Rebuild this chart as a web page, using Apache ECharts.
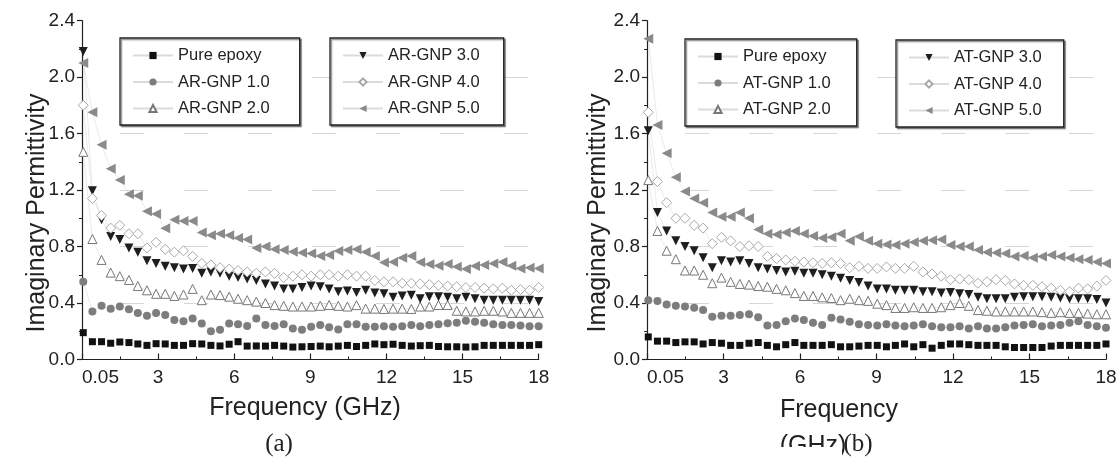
<!DOCTYPE html>
<html><head><meta charset="utf-8">
<script src="https://cdn.jsdelivr.net/npm/echarts@6/dist/echarts.min.js"></script>
<style>html,body{margin:0;padding:0;background:#fff}#c{width:1120px;height:460px}</style>
</head><body><div id="c"></div>
<script>
// Frequency (GHz) sample points
const freq = [0.05,0.41,0.77,1.13,1.49,1.85,2.20,2.56,2.92,3.28,3.64,4.00,4.36,4.72,5.08,5.44,5.80,6.15,6.51,6.87,7.23,7.59,7.95,8.31,8.67,9.03,9.39,9.74,10.10,10.46,10.82,11.18,11.54,11.90,12.26,12.62,12.98,13.33,13.69,14.05,14.41,14.77,15.13,15.49,15.85,16.21,16.57,16.92,17.28,17.64,18.00];

// Panel (a)
const pureA = [0.19,0.126,0.126,0.115,0.124,0.12,0.11,0.10,0.112,0.11,0.10,0.10,0.112,0.11,0.10,0.096,0.108,0.126,0.095,0.096,0.095,0.10,0.095,0.088,0.09,0.092,0.095,0.09,0.095,0.10,0.092,0.10,0.11,0.105,0.108,0.10,0.095,0.098,0.10,0.092,0.09,0.09,0.088,0.09,0.10,0.10,0.10,0.10,0.10,0.10,0.105];
const ar1 = [0.55,0.34,0.38,0.36,0.375,0.355,0.33,0.31,0.33,0.315,0.28,0.27,0.29,0.255,0.20,0.21,0.255,0.25,0.237,0.29,0.245,0.237,0.25,0.22,0.21,0.232,0.244,0.228,0.213,0.249,0.25,0.232,0.232,0.236,0.232,0.236,0.244,0.236,0.244,0.249,0.256,0.26,0.275,0.268,0.26,0.25,0.244,0.244,0.24,0.235,0.235];
const ar2 = [1.47,0.853,0.705,0.615,0.59,0.563,0.52,0.49,0.465,0.465,0.45,0.46,0.50,0.42,0.46,0.456,0.445,0.43,0.42,0.41,0.40,0.385,0.38,0.375,0.375,0.375,0.38,0.386,0.38,0.375,0.385,0.36,0.36,0.358,0.36,0.36,0.358,0.375,0.375,0.386,0.386,0.345,0.34,0.34,0.345,0.345,0.34,0.33,0.33,0.33,0.33];
const ar3 = [2.18,1.195,0.99,0.87,0.85,0.79,0.76,0.70,0.68,0.66,0.65,0.64,0.645,0.61,0.62,0.61,0.59,0.58,0.57,0.56,0.535,0.52,0.50,0.50,0.51,0.52,0.515,0.50,0.48,0.485,0.475,0.49,0.47,0.465,0.44,0.45,0.455,0.43,0.445,0.445,0.44,0.43,0.44,0.43,0.42,0.42,0.42,0.42,0.42,0.42,0.41];
const ar4 = [1.80,1.14,1.02,0.93,0.95,0.89,0.89,0.79,0.83,0.78,0.76,0.77,0.73,0.68,0.67,0.65,0.64,0.63,0.62,0.61,0.62,0.61,0.58,0.59,0.60,0.59,0.60,0.60,0.59,0.60,0.59,0.59,0.56,0.55,0.55,0.54,0.54,0.535,0.53,0.525,0.52,0.515,0.51,0.51,0.505,0.50,0.505,0.49,0.495,0.49,0.51];
const ar5 = [2.10,1.75,1.52,1.35,1.27,1.17,1.16,1.05,1.03,0.93,0.99,0.98,0.98,0.90,0.88,0.89,0.88,0.86,0.85,0.79,0.80,0.78,0.775,0.763,0.756,0.75,0.733,0.74,0.768,0.775,0.78,0.761,0.733,0.686,0.69,0.72,0.733,0.688,0.674,0.664,0.676,0.657,0.64,0.662,0.669,0.68,0.69,0.664,0.645,0.65,0.645];

// Panel (b)
const pureB = [0.16,0.13,0.13,0.12,0.125,0.125,0.11,0.12,0.115,0.10,0.10,0.115,0.12,0.10,0.09,0.105,0.12,0.10,0.10,0.10,0.105,0.09,0.09,0.095,0.10,0.10,0.09,0.10,0.11,0.09,0.105,0.08,0.10,0.11,0.11,0.105,0.10,0.10,0.10,0.09,0.085,0.085,0.085,0.085,0.095,0.10,0.10,0.10,0.10,0.10,0.11];
const at1 = [0.42,0.414,0.39,0.38,0.375,0.367,0.35,0.303,0.31,0.31,0.315,0.32,0.30,0.24,0.244,0.27,0.29,0.28,0.26,0.244,0.296,0.284,0.268,0.25,0.245,0.24,0.25,0.24,0.235,0.24,0.25,0.235,0.228,0.228,0.235,0.22,0.235,0.22,0.22,0.228,0.24,0.245,0.25,0.235,0.24,0.245,0.26,0.27,0.245,0.235,0.225];
const at2 = [1.27,0.91,0.77,0.71,0.63,0.63,0.60,0.54,0.58,0.55,0.535,0.53,0.52,0.515,0.50,0.49,0.47,0.45,0.45,0.44,0.435,0.42,0.43,0.42,0.415,0.395,0.385,0.365,0.365,0.37,0.365,0.365,0.37,0.385,0.40,0.38,0.35,0.345,0.34,0.34,0.34,0.34,0.34,0.335,0.33,0.335,0.33,0.33,0.325,0.32,0.32];
const at3 = [1.62,1.04,0.91,0.84,0.80,0.77,0.72,0.65,0.70,0.69,0.70,0.68,0.65,0.64,0.63,0.62,0.625,0.61,0.61,0.60,0.59,0.575,0.56,0.545,0.52,0.50,0.50,0.49,0.49,0.49,0.48,0.48,0.47,0.475,0.465,0.46,0.44,0.43,0.43,0.43,0.44,0.445,0.445,0.445,0.44,0.435,0.43,0.43,0.43,0.425,0.40];
const at4 = [1.75,1.26,1.11,1.00,1.00,0.95,0.93,0.82,0.865,0.84,0.80,0.805,0.80,0.73,0.715,0.705,0.695,0.69,0.685,0.68,0.685,0.68,0.65,0.66,0.645,0.645,0.655,0.645,0.645,0.66,0.62,0.605,0.59,0.565,0.57,0.565,0.54,0.55,0.565,0.56,0.535,0.525,0.525,0.515,0.505,0.49,0.48,0.505,0.50,0.52,0.56];
const at5 = [2.27,1.66,1.46,1.29,1.19,1.14,1.11,1.04,1.01,1.01,1.04,1.00,0.92,0.89,0.885,0.90,0.91,0.89,0.875,0.86,0.865,0.89,0.84,0.87,0.84,0.82,0.815,0.81,0.82,0.83,0.84,0.845,0.85,0.81,0.80,0.80,0.775,0.76,0.755,0.75,0.73,0.735,0.72,0.73,0.74,0.73,0.72,0.71,0.705,0.69,0.68];

const xTickLabels = ['0.05','3','6','9','12','15','18'];
const namesA = ['Pure epoxy','AR-GNP 1.0','AR-GNP 2.0','AR-GNP 3.0','AR-GNP 4.0','AR-GNP 5.0'];
const namesB = ['Pure epoxy','AT-GNP 1.0','AT-GNP 2.0','AT-GNP 3.0','AT-GNP 4.0','AT-GNP 5.0'];

const styles = [
  {symbol:'rect', size:7, rot:0, item:{color:'#111'}},
  {symbol:'circle', size:8, rot:0, item:{color:'#7d7d7d'}},
  {symbol:'triangle', size:9, rot:0, item:{color:'#fff', borderColor:'#777', borderWidth:1}},
  {symbol:'triangle', size:9, rot:180, item:{color:'#1e1e1e'}},
  {symbol:'diamond', size:10, rot:0, item:{color:'#fff', borderColor:'#a8a8a8', borderWidth:1}},
  {symbol:'triangle', size:10, rot:90, item:{color:'#8a8a8a'}}
];

function mk(name, vals, idx, st) {
  return {
    type:'line', name:name, xAxisIndex:idx, yAxisIndex:idx,
    data: freq.map((f,k)=>[f, vals[k]]),
    symbol: st.symbol, symbolSize: st.size, symbolRotate: st.rot, showSymbol:true,
    itemStyle: st.item,
    lineStyle: {color:'#bdbdbd', width:0.6, opacity:0.55},
    emphasis:{disabled:true}, animation:false, z: 3
  };
}
const dataA = [pureA, ar1, ar2, ar3, ar4, ar5];
const dataB = [pureB, at1, at2, at3, at4, at5];
const series = [];
dataA.forEach((d,k)=>series.push(mk(namesA[k], d, 0, styles[k])));
dataB.forEach((d,k)=>series.push(mk(namesB[k], d, 1, styles[k])));

const FONT = 'Liberation Sans';
function xAxis(gi) {
  return {
    type:'value', gridIndex:gi, min:0, max:18, interval:3,
    axisLine:{show:true, onZero:false, lineStyle:{color:'#222', width:1.2}},
    axisTick:{show:true, inside:true, length:6, lineStyle:{color:'#222', width:1.2}},
    minorTick:{show:true, splitNumber:2, length:3, lineStyle:{color:'#222', width:1}},
    splitLine:{show:false},
    axisLabel:{color:'#222', fontFamily:FONT, fontSize:19, margin:9,
      alignMinLabel:'left', showMinLabel:true, showMaxLabel:true,
      formatter:(v)=>xTickLabels[Math.round(v/3)]}
  };
}
function yAxis(gi, off) {
  return {
    type:'value', gridIndex:gi, min:0, max:2.4, interval:0.4,
    axisLine:{show:true, onZero:false, lineStyle:{color:'#222', width:1.2}},
    axisTick:{show:true, inside:false, length:5, lineStyle:{color:'#222', width:1.2}},
    minorTick:{show:true, splitNumber:2, length:3, lineStyle:{color:'#222', width:1}},
    splitLine:{show:true, showMinLine:false, showMaxLine:false,
      lineStyle:{color:'#d6d6d6', width:1.2, type:[24,40], dashOffset:off}},
    axisLabel:{color:'#222', fontFamily:FONT, fontSize:19, margin:7, formatter:(v)=>v.toFixed(1)}
  };
}
function legend(names, left, top, pr) {
  return {
    data:names, orient:'vertical', left:left, top:top,
    padding:[9, pr, 8, 12], itemGap:9.5, itemWidth:40, itemHeight:9,
    backgroundColor:'#fff', borderColor:'#222', borderWidth:1.3,
    shadowColor:'rgba(0,0,0,0.45)', shadowOffsetX:1.5, shadowOffsetY:1.5, shadowBlur:1,
    textStyle:{color:'#222', fontFamily:FONT, fontSize:16.5},
    selectedMode:false, z:5
  };
}

const option = {
  animation:false,
  backgroundColor:'#fff',
  grid:[
    {left:82, top:20.5, width:456.7, height:339},
    {left:647, top:20.5, width:459, height:339}
  ],
  xAxis:[xAxis(0), xAxis(1)],
  yAxis:[yAxis(0, 26), yAxis(1, 26)],
  legend:[
    legend(namesA.slice(0,3), 120, 38, 30),
    legend(namesA.slice(3), 330, 38, 24),
    legend(namesB.slice(0,3), 685, 39, 26),
    legend(namesB.slice(3), 896, 40, 22)
  ],
  series: series,
  graphic:[
    {type:'text', x:37, y:213, rotation:Math.PI/2, z:10,
      style:{text:'Imaginary Permittivity', font:'25px "Liberation Sans"', fill:'#222', textAlign:'center', textVerticalAlign:'middle'}},
    {type:'text', x:598, y:213, rotation:Math.PI/2, z:10,
      style:{text:'Imaginary Permittivity', font:'25px "Liberation Sans"', fill:'#222', textAlign:'center', textVerticalAlign:'middle'}},
    {type:'text', x:305, y:408, z:10,
      style:{text:'Frequency (GHz)', font:'25px "Liberation Sans"', fill:'#222', textAlign:'center', textVerticalAlign:'middle'}},
    {type:'text', x:839, y:410, z:10,
      style:{text:'Frequency', font:'25px "Liberation Sans"', fill:'#222', textAlign:'center', textVerticalAlign:'middle'}},
    {type:'text', x:813, y:446, z:10,
      style:{text:'(GHz)', font:'25px "Liberation Sans"', fill:'#222', textAlign:'center', textVerticalAlign:'middle'}},
    {type:'rect', z:11, shape:{x:770, y:447, width:72, height:14}, style:{fill:'#fff'}},
    {type:'text', x:279, y:444, z:12,
      style:{text:'(a)', font:'25px "Liberation Serif"', fill:'#222', textAlign:'center', textVerticalAlign:'middle'}},
    {type:'text', x:858, y:444, z:12,
      style:{text:'(b)', font:'25px "Liberation Serif"', fill:'#222', textAlign:'center', textVerticalAlign:'middle'}}
  ]
};
const chart = echarts.init(document.getElementById('c'), null, {renderer:'canvas'});
chart.setOption(option);
</script></body></html>
